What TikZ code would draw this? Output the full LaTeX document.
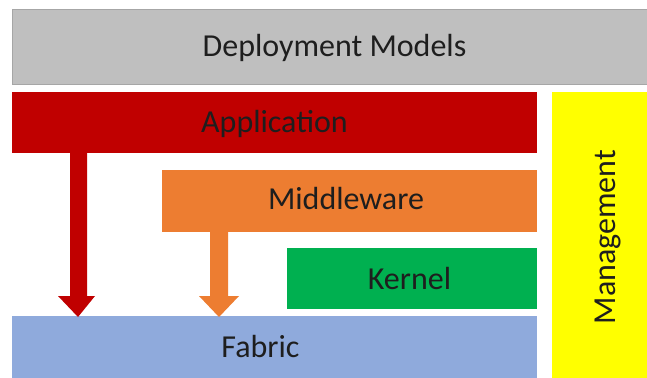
\documentclass[tikz,border=0pt]{standalone}
\usepackage{fontspec}
\setmainfont{Carlito}
\definecolor{dgray}{HTML}{BFBFBF}
\definecolor{dred}{HTML}{C00000}
\definecolor{dorange}{HTML}{ED7D31}
\definecolor{dgreen}{HTML}{00B050}
\definecolor{dblue}{HTML}{8FAADC}
\definecolor{dyellow}{HTML}{FFFF00}
\definecolor{txt}{HTML}{1E1E1E}
\begin{document}
\begin{tikzpicture}[x=1pt,y=-1pt,
  layer/.style={font=\fontsize{32}{34}\selectfont, text=txt, inner sep=0pt, anchor=base}]
\useasboundingbox (0,0) rectangle (647,377);
\fill[white] (0,0) rectangle (647,377);
% boxes
\filldraw[fill=dgray, draw=gray!70, line width=1pt] (12,10) rectangle (648,85);
\node[layer] (dep) at (334.5,57) {Deployment Models};
\fill[dred] (12,92) rectangle (537,153);
\node[layer] (app) at (274.5,132) {Application};
\fill[dorange] (162,170) rectangle (537,232);
\node[layer] (mid) at (346,209) {Middleware};
\fill[dgreen] (287,248) rectangle (537,309);
\node[layer] (ker) at (409.5,289) {Kernel};
\fill[dblue] (12,316) rectangle (537,378);
\node[layer] (fab) at (260.5,357) {Fabric};
\fill[dyellow] (552,92) rectangle (648,378);
\node[layer, rotate=90] (man) at (615,237) {Management};
% arrows
\fill[dred] (70,153) -- (87,153) -- (87,296) -- (95,296) -- (78,317) -- (58,296) -- (70,296) -- cycle;
\fill[dorange] (210,232) -- (228,232) -- (228,296) -- (239,296) -- (219,317) -- (199,296) -- (210,296) -- cycle;
\end{tikzpicture}
\end{document}
